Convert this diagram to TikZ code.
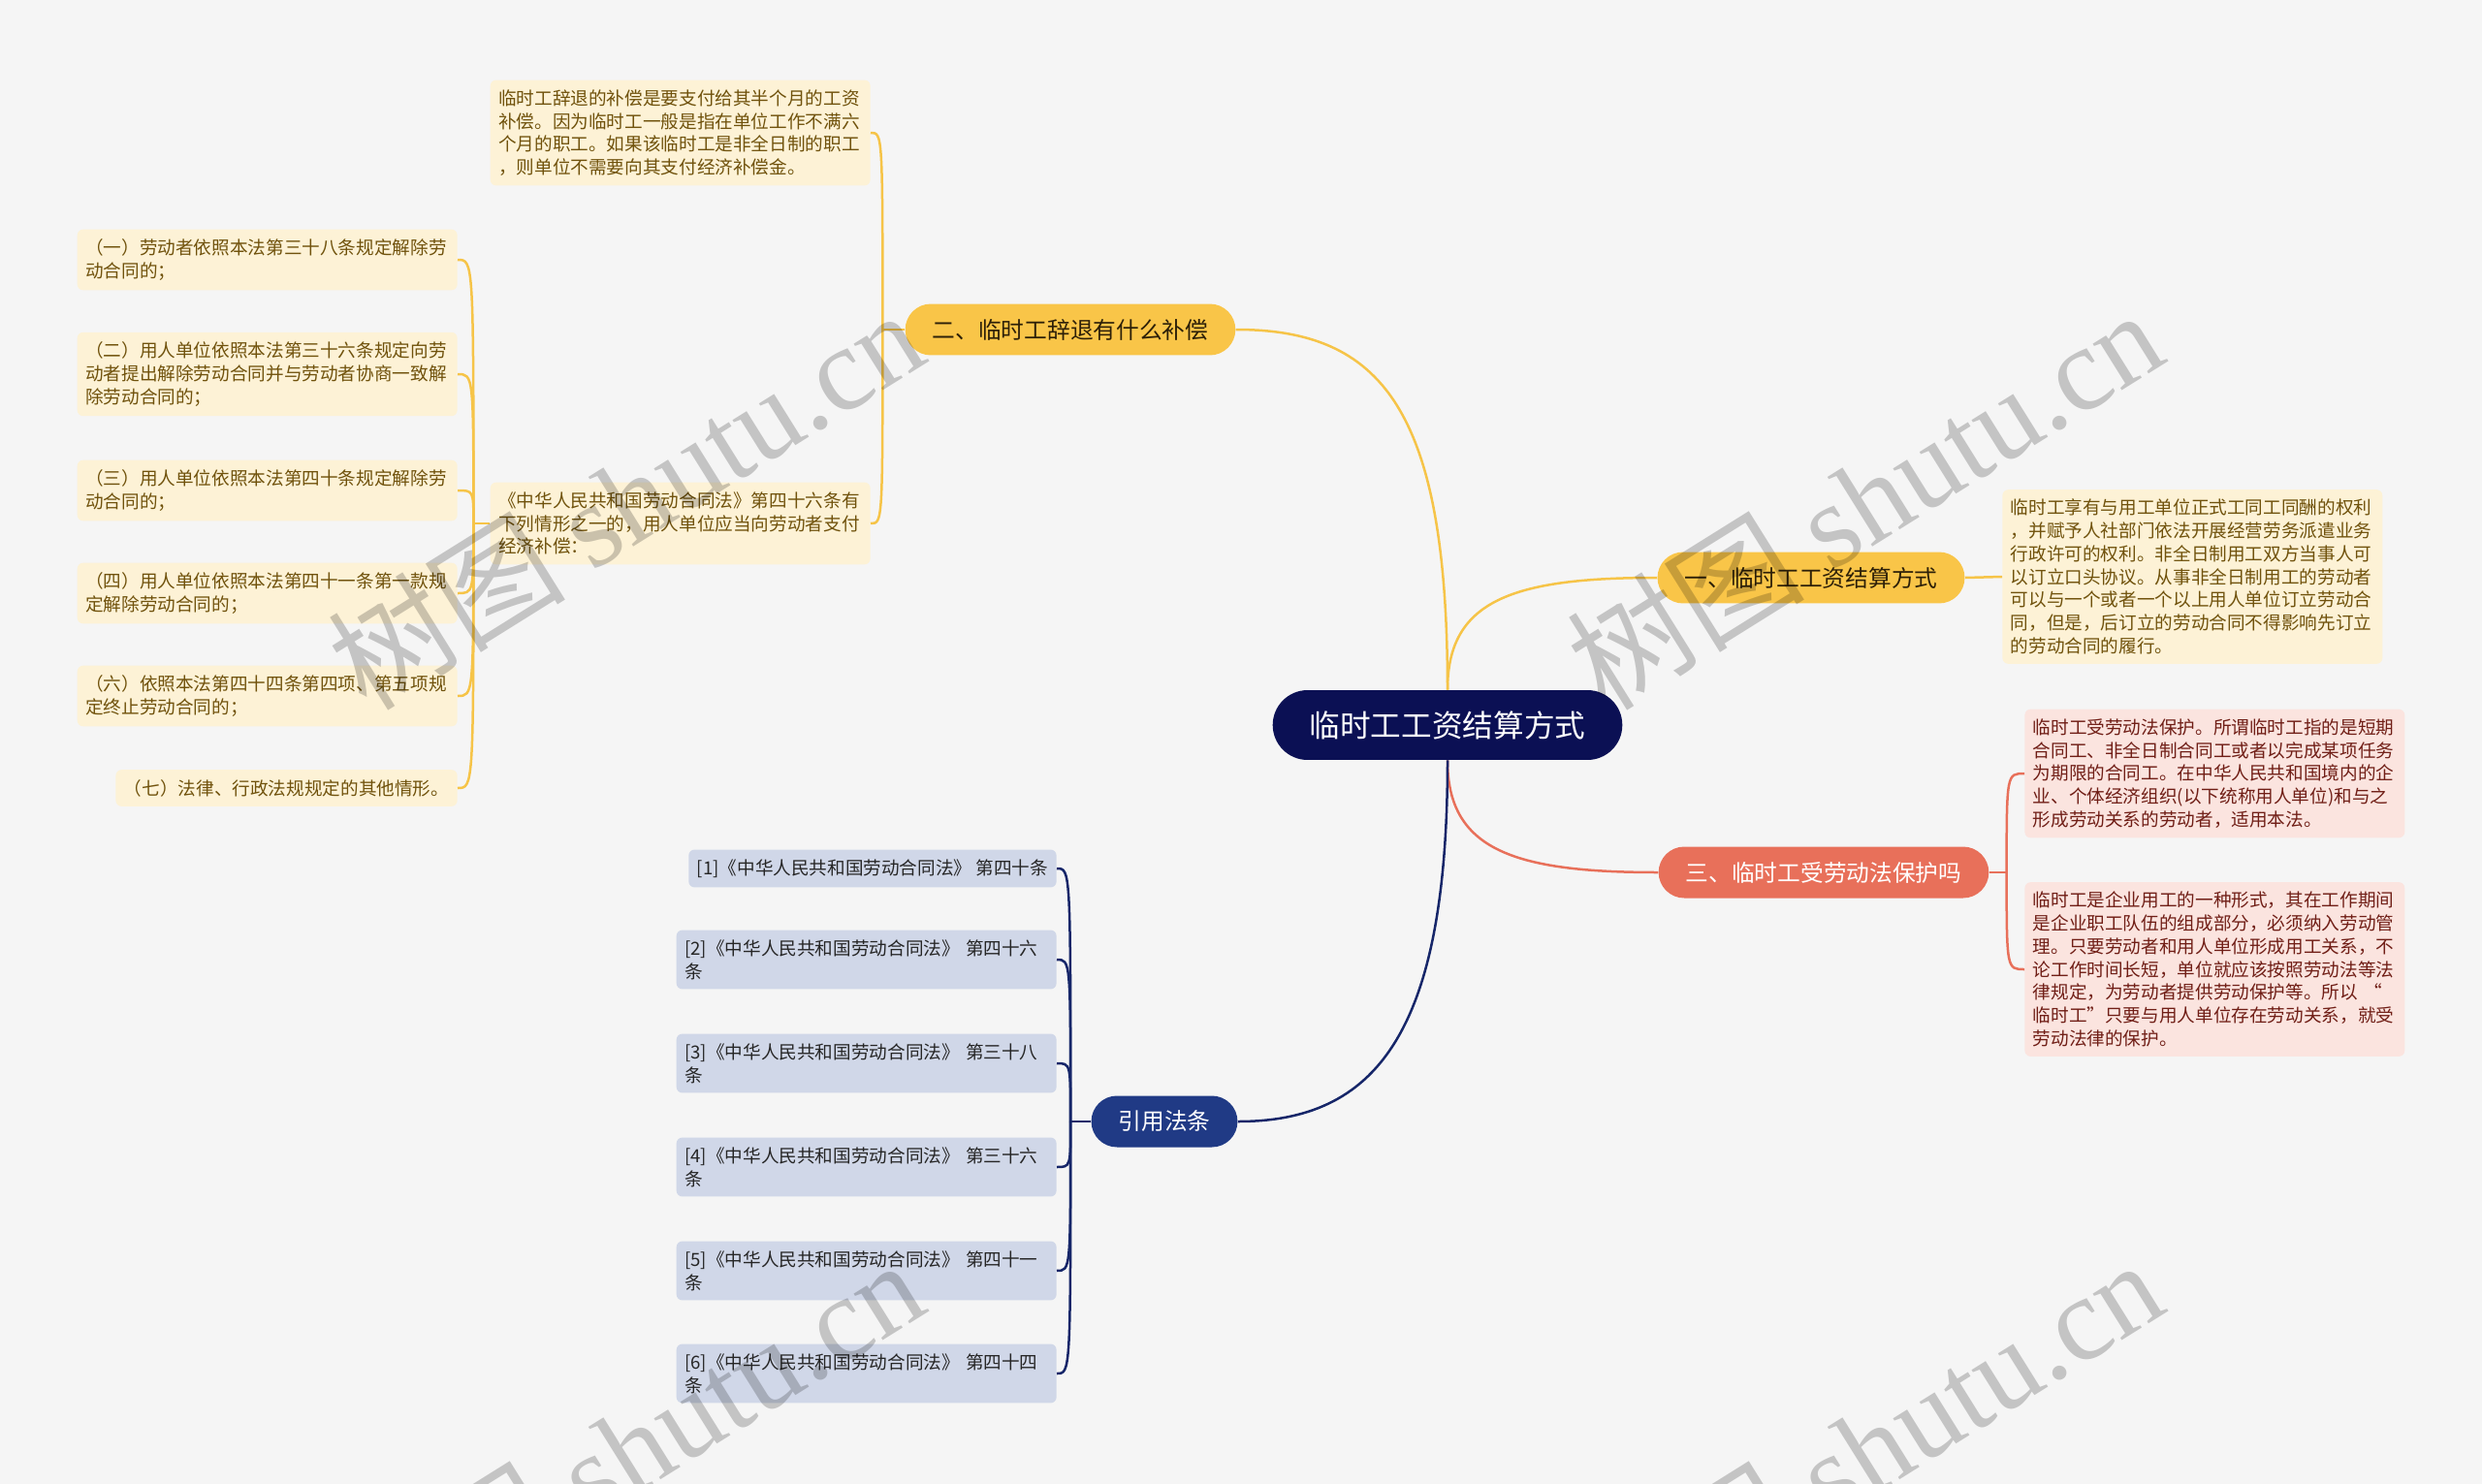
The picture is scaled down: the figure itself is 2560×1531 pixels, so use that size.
\documentclass[tikz,border=0pt]{standalone}
\usepackage{fontspec}
\setmainfont{Noto Sans CJK SC}
\newfontfamily\markfont{Liberation Serif}
\usetikzlibrary{positioning}

\definecolor{bgpaper}{RGB}{245,245,245}
\definecolor{rootblue}{RGB}{11,16,84}
\definecolor{ygold}{RGB}{249,197,72}
\definecolor{ylinec}{RGB}{246,196,72}
\definecolor{yleafbg}{RGB}{253,242,214}
\definecolor{yleaftext}{RGB}{112,82,12}
\definecolor{rcoral}{RGB}{232,112,90}
\definecolor{rleafbg}{RGB}{251,228,223}
\definecolor{rleaftext}{RGB}{112,30,22}
\definecolor{bnavy}{RGB}{32,58,133}
\definecolor{blinec}{RGB}{22,38,105}
\definecolor{bleafbg}{RGB}{208,215,232}
\definecolor{bleaftext}{RGB}{38,38,38}

\begin{document}
\begin{tikzpicture}[x=0.02cm, y=-0.02cm,
  rootbox/.style={fill=rootblue, text=white, rounded corners=0.72cm,
    minimum height=1.44cm, inner xsep=0.76cm, inner ysep=0pt,
    font=\fontsize{18}{22}\selectfont},
  pill/.style={rounded corners=0.53cm, minimum height=1.06cm,
    inner xsep=0.56cm, inner ysep=0pt, font=\fontsize{13.5}{16}\selectfont},
  ybranch/.style={pill, fill=ygold, text={rgb,255:red,45;green,32;blue,8}},
  rbranch/.style={pill, fill=rcoral, text=white},
  bbranch/.style={pill, fill=bnavy, text=white},
  leaf/.style={rounded corners=0.12cm, inner xsep=0.17cm, inner ysep=0.2cm,
    align=left, font=\fontsize{10.6}{13.5}\selectfont},
  wide/.style={text width=7.5cm},
  yleaf/.style={leaf, fill=yleafbg, text=yleaftext},
  rleaf/.style={leaf, wide, fill=rleafbg, text=rleaftext},
  bleaf/.style={leaf, fill=bleafbg, text=bleaftext},
  ylink/.style={draw=ylinec, line width=0.05cm},
  rlink/.style={draw=rcoral, line width=0.05cm},
  blink/.style={draw=blinec, line width=0.05cm},
  wmark/.style={text=black, text opacity=0.2, rotate=32,
    font=\fontsize{70}{70}\selectfont}]

  \useasboundingbox (0,0) rectangle (2560,1531);
  \clip (0,0) rectangle (2560,1531);
  \fill[bgpaper] (0,0) rectangle (2560,1531);

  % Centre and main branches
  \node[rootbox] (root) at (1493,748) {临时工工资结算方式};
  \node[ybranch] (pay) at (1868,596) {一、临时工工资结算方式};
  \node[ybranch] (quit) at (1104,340) {二、临时工辞退有什么补偿};
  \node[rbranch] (law) at (1881,900) {三、临时工受劳动法保护吗};
  \node[bbranch] (cite) at (1201,1157) {引用法条};

  \draw[ylink] (root.north) .. controls +(0,-92) and +(-150,0) .. (pay.west);
  \draw[ylink] (root.north) .. controls +(0,-290) and +(150,0) .. (quit.east);
  \draw[rlink] (root.south) .. controls +(0,92) and +(-150,0) .. (law.west);
  \draw[blink] (root.south) .. controls +(0,285) and +(140,0) .. (cite.east);

  % Branch one
  \node[yleaf, wide, anchor=west] (payNote) at (2065,595)
    {临时工享有与用工单位正式工同工同酬的权利\\
     ，并赋予人社部门依法开展经营劳务派遣业务\\
     行政许可的权利。非全日制用工双方当事人可\\
     以订立口头协议。从事非全日制用工的劳动者\\
     可以与一个或者一个以上用人单位订立劳动合\\
     同，但是，后订立的劳动合同不得影响先订立\\
     的劳动合同的履行。};
  \draw[ylink] (pay.east) -- (payNote.west);

  % Branch two
  \node[yleaf, wide, anchor=east] (quitNote) at (898,137)
    {临时工辞退的补偿是要支付给其半个月的工资\\
     补偿。因为临时工一般是指在单位工作不满六\\
     个月的职工。如果该临时工是非全日制的职工\\
     ，则单位不需要向其支付经济补偿金。};
  \node[yleaf, wide, anchor=east] (quitRule) at (898,540)
    {《中华人民共和国劳动合同法》第四十六条有\\
     下列情形之一的，用人单位应当向劳动者支付\\
     经济补偿：};
  \draw[ylink] (quit.west) -- ++(-23,0) coordinate (quitFork);
  \foreach \leaf in {quitNote, quitRule}
    \draw[ylink] (quitFork) .. controls (quitFork |- \leaf.east) .. (\leaf.east);

  \node[yleaf, wide, anchor=east] (case1) at (472,268)
    {（一）劳动者依照本法第三十八条规定解除劳\\动合同的；};
  \node[yleaf, wide, anchor=east] (case2) at (472,386)
    {（二）用人单位依照本法第三十六条规定向劳\\动者提出解除劳动合同并与劳动者协商一致解\\除劳动合同的；};
  \node[yleaf, wide, anchor=east] (case3) at (472,506)
    {（三）用人单位依照本法第四十条规定解除劳\\动合同的；};
  \node[yleaf, wide, anchor=east] (case4) at (472,612)
    {（四）用人单位依照本法第四十一条第一款规\\定解除劳动合同的；};
  \node[yleaf, wide, anchor=east] (case6) at (472,718)
    {（六）依照本法第四十四条第四项、第五项规\\定终止劳动合同的；};
  \node[yleaf, anchor=east] (case7) at (472,813)
    {（七）法律、行政法规规定的其他情形。};
  \draw[ylink] (quitRule.west) -- ++(-17,0) coordinate (ruleFork);
  \foreach \leaf in {case1, case2, case3, case4, case6, case7}
    \draw[ylink] (ruleFork) .. controls (ruleFork |- \leaf.east) .. (\leaf.east);

  % Branch three
  \node[rleaf, anchor=west] (lawNoteA) at (2088,798)
    {临时工受劳动法保护。所谓临时工指的是短期\\
     合同工、非全日制合同工或者以完成某项任务\\
     为期限的合同工。在中华人民共和国境内的企\\
     业、个体经济组织(以下统称用人单位)和与之\\
     形成劳动关系的劳动者，适用本法。};
  \node[rleaf, anchor=west] (lawNoteB) at (2088,1000)
    {临时工是企业用工的一种形式，其在工作期间\\
     是企业职工队伍的组成部分，必须纳入劳动管\\
     理。只要劳动者和用人单位形成用工关系，不\\
     论工作时间长短，单位就应该按照劳动法等法\\
     律规定，为劳动者提供劳动保护等。所以 “\\
     临时工”只要与用人单位存在劳动关系，就受\\
     劳动法律的保护。};
  \draw[rlink] (law.east) -- ++(18,0) coordinate (lawFork);
  \foreach \leaf in {lawNoteA, lawNoteB}
    \draw[rlink] (lawFork) .. controls (lawFork |- \leaf.west) .. (\leaf.west);

  % Cited articles
  \node[bleaf, anchor=east] (ref1) at (1090,896)
    {[1]《中华人民共和国劳动合同法》 第四十条};
  \foreach \i/\y/\art in {2/990/第四十六, 3/1097/第三十八, 4/1204/第三十六,
                          5/1311/第四十一, 6/1417/第四十四}
    \node[bleaf, wide, anchor=east] (ref\i) at (1090,\y)
      {[\i]《中华人民共和国劳动合同法》 \art\\条};
  \draw[blink] (cite.west) -- ++(-21,0) coordinate (citeFork);
  \foreach \i in {1,...,6}
    \draw[blink] (citeFork) .. controls (citeFork |- ref\i.east) .. (ref\i.east);

  % Watermarks
  \foreach \wx/\wy [count=\k] in {645/514, 1923/514, 645/1494, 1923/1494}
    \node[wmark] (mark\k) at (\wx,\wy) {树图 {\markfont shutu.cn}};
\end{tikzpicture}
\end{document}
